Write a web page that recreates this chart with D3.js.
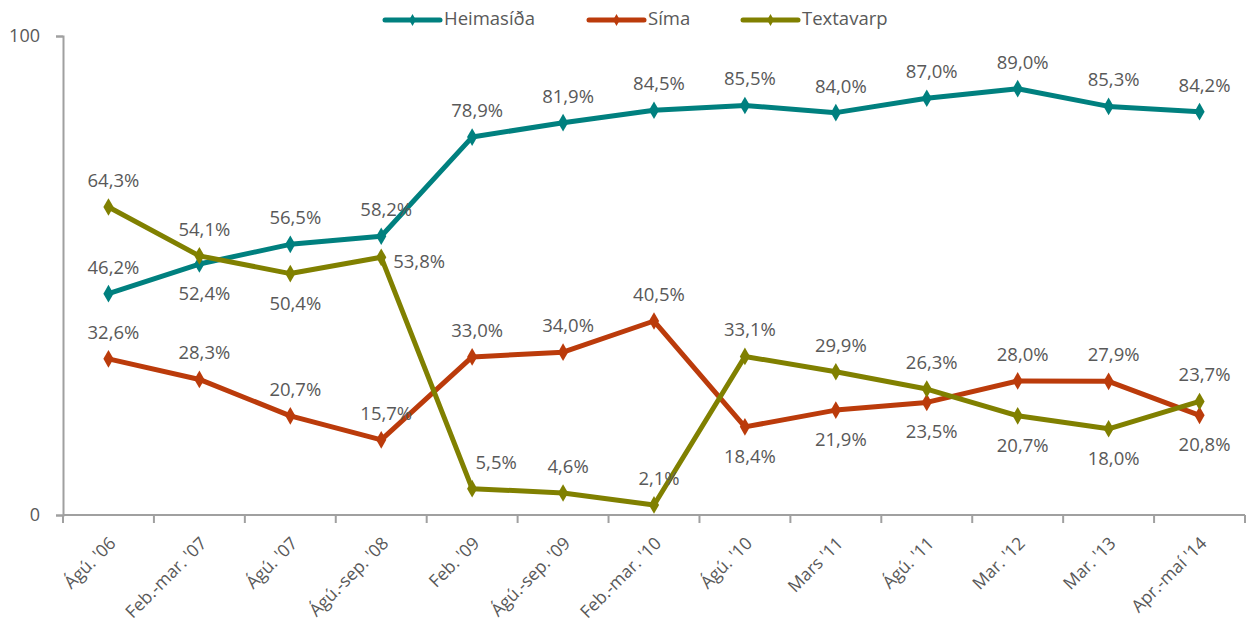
<!DOCTYPE html>
<html>
<head>
<meta charset="utf-8">
<script src="https://cdn.jsdelivr.net/npm/d3@7"></script>
<style>
  html, body { margin: 0; padding: 0; background: #fff; }
  svg text { font-family: "Open Sans", "Noto Sans", sans-serif; fill: #595959; }
</style>
</head>
<body>
<svg id="chart" width="1255" height="622"></svg>
<script>
// Survey periods
const categories = ["Ágú. '06", "Feb.-mar. '07", "Ágú. '07", "Ágú.-sep. '08", "Feb. '09",
  "Ágú.-sep. '09", "Feb.-mar. '10", "Ágú. '10", "Mars '11", "Ágú. '11", "Mar. '12",
  "Mar. '13", "Apr.-maí '14"];

// Share (%) per channel
const heimasida = [46.2, 52.4, 56.5, 58.2, 78.9, 81.9, 84.5, 85.5, 84.0, 87.0, 89.0, 85.3, 84.2];
const sima      = [32.6, 28.3, 20.7, 15.7, 33.0, 34.0, 40.5, 18.4, 21.9, 23.5, 28.0, 27.9, 20.8];
const textavarp = [64.3, 54.1, 50.4, 53.8, 5.5, 4.6, 2.1, 33.1, 29.9, 26.3, 20.7, 18.0, 23.7];

// Which side of each point its value label sits on (a = above, b = below, r = right, ar = above right)
const heimasidaSide = ["a","b","a","a","a","a","a","a","a","a","a","a","a"];
const simaSide      = ["a","a","a","a","a","a","a","b","b","b","a","a","b"];
const textavarpSide = ["a","a","b","r","ar","a","a","a","a","a","b","b","a"];

const yTicks = [0, 100];

const series = [
  { name: "Heimasíða", values: heimasida, side: heimasidaSide, color: "#00807f" },
  { name: "Síma",      values: sima,      side: simaSide,      color: "#bb3b0b" },
  { name: "Textavarp", values: textavarp, side: textavarpSide, color: "#808000" }
];

const svg = d3.select("#chart");
const plot = { left: 63, right: 1245, top: 36, bottom: 515 };

const x = d3.scaleBand().domain(categories).range([plot.left, plot.right]);
const y = d3.scaleLinear().domain([0, 100]).range([plot.bottom, plot.top]);
const cx = c => x(c) + x.bandwidth() / 2;

const axisColor = "#a0a0a0";

// Y axis
const yAxis = svg.append("g")
  .attr("transform", `translate(${plot.left},0)`)
  .call(d3.axisLeft(y).tickValues(yTicks).tickSize(7).tickPadding(16).tickFormat(d3.format("d")));
yAxis.select(".domain").attr("stroke", axisColor).attr("stroke-width", 2);
yAxis.selectAll(".tick line").attr("stroke", axisColor).attr("stroke-width", 2);
yAxis.selectAll(".tick text").style("font-size", "18px").attr("fill", "#595959");

// X axis: line, boundary ticks, rotated labels
const xAxis = svg.append("g").attr("transform", `translate(0,${plot.bottom})`);
xAxis.append("line")
  .attr("x1", plot.left).attr("x2", plot.right)
  .attr("stroke", axisColor).attr("stroke-width", 2);
const bounds = categories.map(c => x(c)).concat([plot.right]);
xAxis.selectAll("line.tk").data(bounds).join("line")
  .attr("class", "tk")
  .attr("x1", d => d).attr("x2", d => d)
  .attr("y1", 0).attr("y2", 8)
  .attr("stroke", axisColor).attr("stroke-width", 2);
xAxis.selectAll("text").data(categories).join("text")
  .attr("transform", d => `translate(${cx(d) + 4},${25}) rotate(-45)`)
  .attr("text-anchor", "end")
  .attr("dy", "0.35em")
  .style("font-size", "17.5px")
  .text(d => d);

// Lines and markers
const line = d3.line().x((d, i) => cx(categories[i])).y(d => y(d));
const diamond = d3.symbol().type(d3.symbolDiamond).size(90);

series.forEach(s => {
  const g = svg.append("g");
  g.append("path")
    .datum(s.values)
    .attr("d", line)
    .attr("fill", "none")
    .attr("stroke", s.color)
    .attr("stroke-width", 5)
    .attr("stroke-linejoin", "round");
  g.selectAll("path.mk").data(s.values).join("path")
    .attr("class", "mk")
    .attr("d", diamond)
    .attr("transform", (d, i) => `translate(${cx(categories[i])},${y(d)})`)
    .attr("fill", s.color);
});

// Value labels
const fmt = v => v.toFixed(1).replace(".", ",") + "%";
series.forEach(s => {
  svg.append("g").selectAll("text").data(s.values).join("text")
    .attr("x", (d, i) => {
      const px = cx(categories[i]);
      const side = s.side[i];
      if (side === "r") return px + 12;
      if (side === "ar") return px + 24;
      return px + 5;
    })
    .attr("y", (d, i) => {
      const py = y(d);
      const side = s.side[i];
      if (side === "a" || side === "ar") return py - 25;
      if (side === "b") return py + 31;
      return py + 6;
    })
    .attr("text-anchor", (d, i) => s.side[i] === "r" ? "start" : "middle")
    .attr("dominant-baseline", "middle")
    .style("font-size", "18.5px")
    .text(fmt);
});

// Legend
const legendItems = [
  { s: series[0], x: 385 },
  { s: series[1], x: 589 },
  { s: series[2], x: 743 }
];
const lg = svg.append("g");
legendItems.forEach(it => {
  const g = lg.append("g").attr("transform", `translate(${it.x},20)`);
  g.append("line").attr("x1", 0).attr("x2", 55)
    .attr("stroke", it.s.color).attr("stroke-width", 5).attr("stroke-linecap", "round");
  g.append("path").attr("d", d3.symbol().type(d3.symbolDiamond).size(40))
    .attr("transform", "translate(27.5,0)").attr("fill", it.s.color);
  g.append("text").attr("x", 59).attr("y", 0).attr("dominant-baseline", "middle")
    .style("font-size", "18.5px").text(it.s.name);
});
</script>
</body>
</html>
